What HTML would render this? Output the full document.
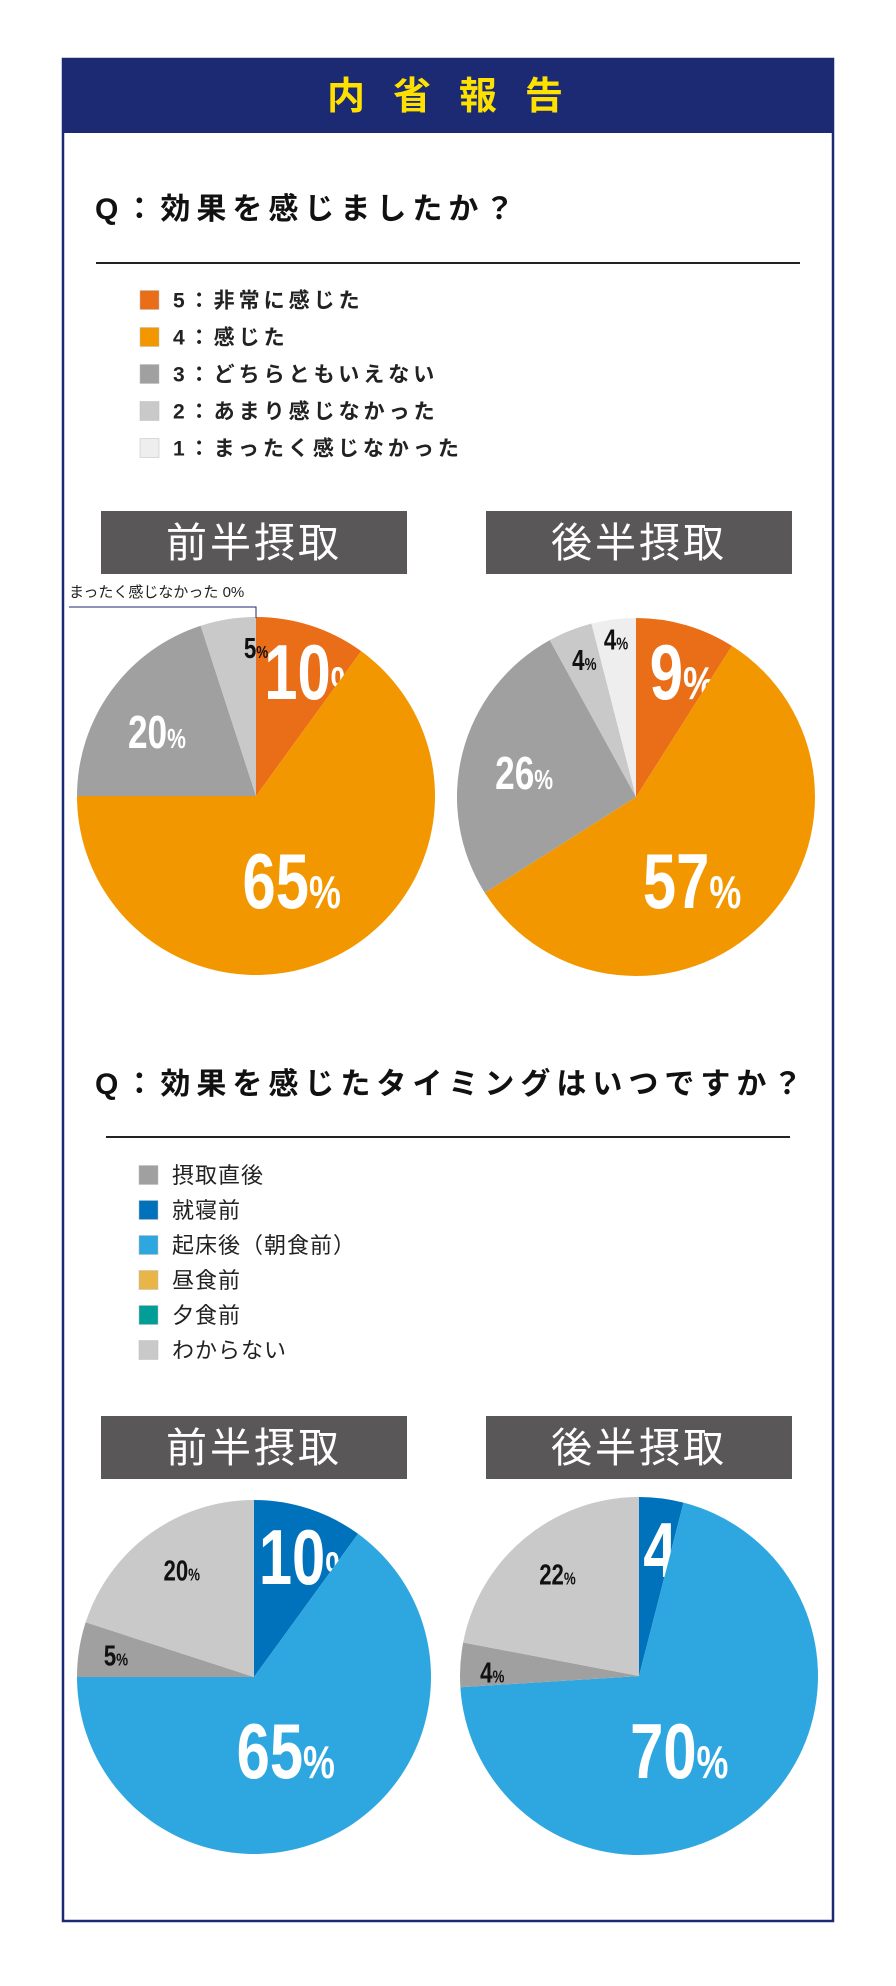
<!DOCTYPE html>
<html><head><meta charset="utf-8">
<style>
html,body{margin:0;padding:0;background:#fff;}
svg{display:block;}
text{font-family:"Liberation Sans","Noto Sans CJK JP",sans-serif;}
.big{font-family:"Liberation Sans Narrow","Liberation Sans",sans-serif;font-weight:bold;}
</style></head>
<body>
<svg id="root" width="896" height="1986" viewBox="0 0 896 1986" xmlns="http://www.w3.org/2000/svg">
 <rect x="63" y="59" width="770" height="1862" fill="#fff" stroke="#1B2A73" stroke-width="2.5"/>
 <rect x="62" y="58" width="772" height="75" fill="#1B2A73"/>
 <text x="459" y="109" text-anchor="middle" font-size="38" font-weight="bold" fill="#FFE100" letter-spacing="28" style="font-family:'Noto Sans CJK JP',sans-serif">内省報告</text>

 <text x="95" y="219" font-size="30" font-weight="bold" fill="#111" letter-spacing="6" style="font-family:'Liberation Sans','Noto Sans CJK JP',sans-serif">Q：効果を感じましたか？</text>
 <line x1="96" y1="263" x2="800" y2="263" stroke="#222" stroke-width="2"/>
 <g id="legend1"></g>

 <text x="95" y="1094" font-size="30" font-weight="bold" fill="#111" letter-spacing="6" style="font-family:'Liberation Sans','Noto Sans CJK JP',sans-serif">Q：効果を感じたタイミングはいつですか？</text>
 <line x1="106" y1="1137" x2="790" y2="1137" stroke="#222" stroke-width="2"/>
 <g id="legend2"></g>

 <g id="boxes"></g>
 <g id="pies"></g>

 <text x="69" y="597" font-size="15" fill="#222" style="font-family:'Liberation Sans','Noto Sans CJK JP',sans-serif">まったく感じなかった 0%</text>
 <polyline points="69,607 256,607 256,618" fill="none" stroke="#1B2A73" stroke-width="1"/>
</svg>
<script>
const NS="http://www.w3.org/2000/svg";
const q1Categories=["5：非常に感じた","4：感じた","3：どちらともいえない","2：あまり感じなかった","1：まったく感じなかった"];
const q1Colors=["#EA6D17","#F39700","#A0A0A0","#C9C9C9","#EEEEEE"];
const q1FirstHalf=[10,65,20,5,0];
const q1SecondHalf=[9,57,26,4,4];
const q2Categories=["摂取直後","就寝前","起床後（朝食前）","昼食前","夕食前","わからない"];
const q2Colors=["#A0A0A0","#0072BC","#2EA7E0","#E9B549","#009E96","#C9C9C9"];
// pie slice order for Q2 (clockwise from top): 就寝前, 起床後, 摂取直後, わからない
const q2Order=[1,2,0,5];
const q2FirstHalf=[5,10,65,0,0,20];
const q2SecondHalf=[4,4,70,0,0,22];

function el(tag,attrs,parent){const e=document.createElementNS(NS,tag);for(const k in attrs)e.setAttribute(k,attrs[k]);parent.appendChild(e);return e;}

function legend(gid,cats,cols,x0,y0,dy,sq,tx,fs,bold){
  const g=document.getElementById(gid);
  cats.forEach((c,i)=>{
    const y=y0+i*dy;
    const r=el('rect',{x:x0,y:y-sq/2,width:sq,height:sq,fill:cols[i],stroke:"#bbb","stroke-width":0.5},g);
    
    
    const t=el('text',{x:tx,y:y+fs*0.36,"font-size":fs,fill:"#222","letter-spacing":bold?4:1,"font-weight":bold?"bold":"normal"},g);
    
    
    t.textContent=c;
  });
}
legend('legend1',q1Categories,q1Colors,140,300,37,19,173,21,true);
legend('legend2',q2Categories,q2Colors,139,1175,35,19,172,22,false);

const boxes=document.getElementById('boxes');
[[101,511,"前半摂取"],[486,511,"後半摂取"],[101,1416,"前半摂取"],[486,1416,"後半摂取"]].forEach(b=>{
  const r=el('rect',{x:b[0],y:b[1],width:306,height:63,fill:"#595757"},boxes);
  
  
  const t=el('text',{x:b[0]+153,y:b[1]+46,"text-anchor":"middle","font-size":41,fill:"#fff","letter-spacing":3},boxes);
  
  
  t.textContent=b[2];
});

const pies=document.getElementById('pies');
function pt(cx,cy,R,a,r){return [cx+R*r*Math.sin(a),cy-R*r*Math.cos(a)];}
function pie(name,cx,cy,R,vals,cols,labelR,labelShift,labelStyle){
  const tot=vals.reduce((a,b)=>a+b,0);
  let acc=0;
  vals.forEach((v,i)=>{
    const a0=acc/tot*2*Math.PI; acc+=v; const a1=acc/tot*2*Math.PI;
    if(v<=0)return;
    const p0=pt(cx,cy,R,a0,1),p1=pt(cx,cy,R,a1,1);
    const large=(a1-a0)>Math.PI?1:0;
    const p=el('path',{d:`M${cx},${cy}L${p0[0]},${p0[1]}A${R},${R} 0 ${large} 1 ${p1[0]},${p1[1]}Z`,fill:cols[i]},pies);
    
    
    const st=labelStyle[i]; const F=st[0];
    const am=(a0+a1)/2+labelShift[i]*Math.PI/180; const lp=pt(cx,cy,R,am,labelR[i]);
    const digits=String(v).length;
    const w=F*(0.42*digits+0.42);
    const t=el('text',{x:lp[0]-w/2,y:lp[1]+F*0.36,"font-size":F,fill:st[1],class:"big",textLength:w,lengthAdjust:"spacingAndGlyphs"},pies);
    
    
    const n=el('tspan',{},t); n.textContent=String(v);
    const pc=el('tspan',{"font-size":F*0.6}, t); pc.textContent="%";
  });
}
const BIG=[78,"#fff"],MED=[46,"#fff"],SM=[29,"#111"];
pie('pie-q1-first',256,796,179,q1FirstHalf,q1Colors,[0.77,0.51,0.66,0.83,0.9],[6.6,4,-3,9,0],[BIG,BIG,MED,SM,SM]);
pie('pie-q1-second',636,797,179,q1SecondHalf,q1Colors,[0.75,0.56,0.64,0.82,0.89],[4,11,-2,1,0],[BIG,BIG,MED,SM,SM]);
pie('pie-q2-first',254,1677,177,q2Order.map(i=>q2FirstHalf[i]),q2Order.map(i=>q2Colors[i]),[0.75,0.45,0.79,0.73],[6,3.5,0,2],[BIG,BIG,SM,SM]);
pie('pie-q2-second',639,1676,179,q2Order.map(i=>q2SecondHalf[i]),q2Order.map(i=>q2Colors[i]),[0.74,0.47,0.82,0.73],[9,11,-2,1],[BIG,BIG,SM,SM]);
</script>
</body></html>
